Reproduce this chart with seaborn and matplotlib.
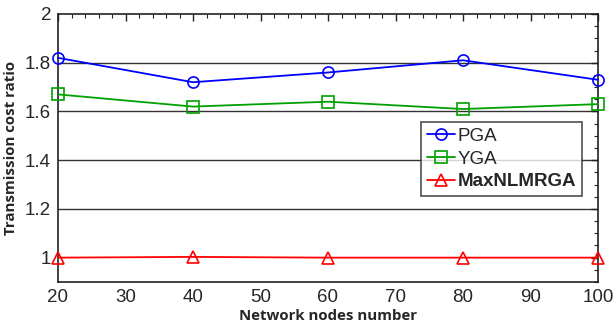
import matplotlib
matplotlib.use("Agg")
import matplotlib.pyplot as plt
import seaborn as sns
import pandas as pd
from matplotlib.ticker import MultipleLocator

nodes = [20, 40, 60, 80, 100]
pga = [1.82, 1.72, 1.76, 1.81, 1.73]
yga = [1.67, 1.62, 1.64, 1.61, 1.63]
maxnl = [1.0, 1.003, 1.0, 1.0, 1.0]
series_names = ["PGA", "YGA", "MaxNLMRGA"]

df = pd.DataFrame({
    "nodes": nodes * 3,
    "ratio": pga + yga + maxnl,
    "alg": [series_names[0]] * 5 + [series_names[1]] * 5 + [series_names[2]] * 5,
})

sns.set_theme(style="white")
plt.rcParams["font.family"] = ["Liberation Sans", "DejaVu Sans"]

fig = plt.figure(figsize=(6.13, 3.27), dpi=100)
ax = fig.add_axes([58/613, 1 - 282/327, 540/613, 268/327])

palette = {"PGA": "#0000ff", "YGA": "#00a000", "MaxNLMRGA": "#ff0000"}
markers = {"PGA": "o", "YGA": "s", "MaxNLMRGA": "^"}
sns.lineplot(data=df, x="nodes", y="ratio", hue="alg", style="alg",
             palette=palette, markers=markers, dashes=False, ax=ax,
             markersize=8, linewidth=1.3, clip_on=False, legend=False)

for line in ax.get_lines():
    c = line.get_color()
    line.set_markeredgecolor(c)
    line.set_markerfacecolor("none")
    line.set_markeredgewidth(1.2)
    line.set_zorder(3)

ax.set_xlim(20, 100)
ax.set_ylim(0.9, 2.0)
ax.set_xticks([20, 30, 40, 50, 60, 70, 80, 90, 100])
ax.set_yticks([1, 1.2, 1.4, 1.6, 1.8, 2])
ax.set_yticklabels(["1", "1.2", "1.4", "1.6", "1.8", "2"])
ax.xaxis.set_minor_locator(MultipleLocator(2))
ax.yaxis.set_minor_locator(MultipleLocator(0.05))
ax.tick_params(which="both", direction="in", top=True, right=True, color="#222222")
ax.tick_params(which="major", length=5, width=1, labelsize=13.5, pad=5)
ax.tick_params(which="minor", length=3, width=0.8)
for s in ax.spines.values():
    s.set_color("#222222")
    s.set_linewidth(1.2)
for yv in [1.2, 1.4, 1.6, 1.8]:
    ax.axhline(yv, color="#333333", linewidth=1.0, zorder=0)

ax.set_xlabel("Network nodes number", fontsize=10.8, fontweight="bold",
              family=["Open Sans", "DejaVu Sans"], labelpad=2)
ax.set_ylabel("Transmission cost ratio", fontsize=10.8, fontweight="bold",
              family=["Open Sans", "DejaVu Sans"], labelpad=5)

handles = [l for l in ax.get_lines()[:3]]
leg = ax.legend(handles, series_names, loc="upper left",
                bbox_to_anchor=((421-58)/540, (282-122)/268),
                fontsize=13.5, frameon=True, fancybox=False, edgecolor="#222222",
                handlelength=1.5, handletextpad=0.15, borderpad=0.3, labelspacing=0.3,
                borderaxespad=0)
leg.get_frame().set_linewidth(1.2)
for t in leg.get_texts():
    if t.get_text() == "MaxNLMRGA":
        t.set_fontweight("bold")

fig.savefig("out.png", dpi=100)
